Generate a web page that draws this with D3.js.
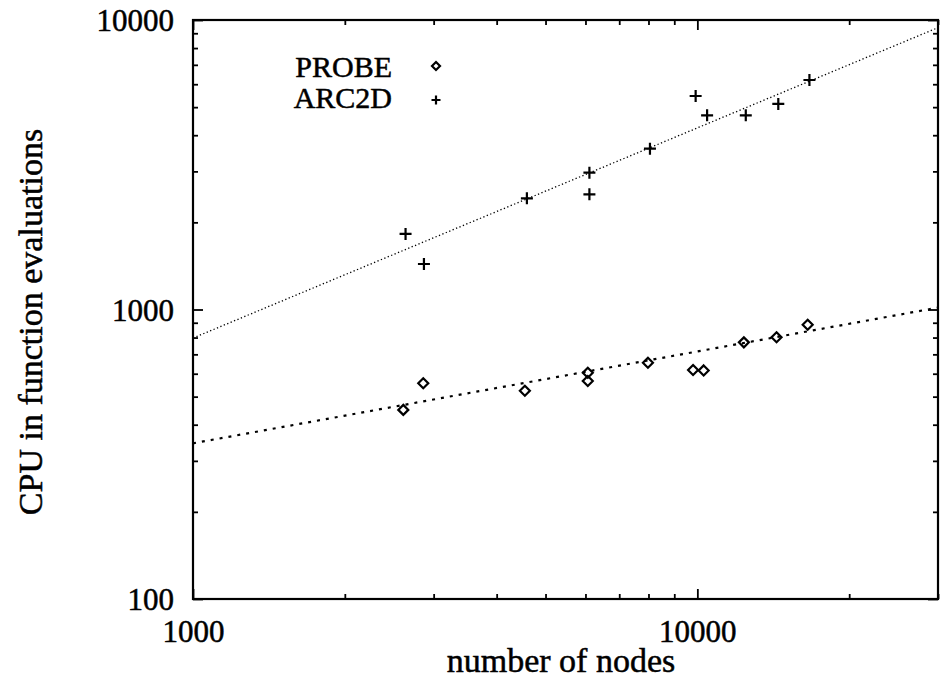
<!DOCTYPE html>
<html lang="en">
<head>
<meta charset="UTF-8">
<title>CPU vs number of nodes</title>
<script src="https://cdnjs.cloudflare.com/ajax/libs/d3/7.8.5/d3.min.js"></script>
<style>
    body { margin: 0; background: #fff; }
    svg { display: block; }
    text { font-family: "Liberation Serif", "DejaVu Serif", serif; fill: #000; stroke: #000; stroke-width: 0.5px; }
    .tick text { font-size: 31px; }
</style>
</head>
<body>
<svg id="chart" width="940" height="681"></svg>
<script>
    // values
    const probeNodes = [2612, 2861, 4550, 6064, 6064, 7980, 9806, 10292, 12366, 14355, 16548];
    const probeCpu   = [450, 556, 524, 605, 566, 655, 618, 616, 770, 802, 886];
    const arcNodes = [2639, 2870, 4592, 6109, 6109, 8054, 9922, 10455, 12474, 14470, 16680];
    const arcCpu   = [1824, 1436, 2421, 2968, 2500, 3593, 5464, 4687, 4687, 5128, 6204];
    // fitted lines, endpoints only
    const probeFit = [[1000, 345], [30000, 1015]];
    const arcFit   = [[1000, 797], [30000, 9410]];
    const xMajor = [1000, 10000];
    const xMinor = [2000, 3000, 4000, 5000, 6000, 7000, 8000, 9000, 20000, 30000];
    const yMajor = [100, 1000, 10000];
    const yMinor = [200, 300, 400, 500, 600, 700, 800, 900, 2000, 3000, 4000, 5000, 6000, 7000, 8000, 9000];
    const seriesNames = ["PROBE", "ARC2D"];

    const svg = d3.select("#chart");
    const pLeft = 193, pRight = 938, pTop = 20, pBottom = 599;

    const x = d3.scaleLog().domain([1000, 30000]).range([pLeft, pRight]);
    const y = d3.scaleLog().domain([100, 10000]).range([pBottom, pTop]);

    // ticks, all pointing into the plot
    function drawTicks(axisFn, scale, values, len, transform) {
        svg.append("g")
            .attr("transform", transform)
            .call(axisFn(scale).tickValues(values).tickSize(len).tickFormat(""))
            .call(g => g.select(".domain").remove())
            .selectAll("line").attr("stroke", "#000").attr("stroke-width", 1.8);
    }
    drawTicks(d3.axisBottom, x, xMinor, -5, `translate(0,${pBottom})`);
    drawTicks(d3.axisBottom, x, xMajor, -10, `translate(0,${pBottom})`);
    drawTicks(d3.axisTop, x, xMinor, -5, `translate(0,${pTop})`);
    drawTicks(d3.axisTop, x, xMajor, -10, `translate(0,${pTop})`);
    drawTicks(d3.axisLeft, y, yMinor, -5, `translate(${pLeft},0)`);
    drawTicks(d3.axisLeft, y, yMajor, -10, `translate(${pLeft},0)`);
    drawTicks(d3.axisRight, y, yMinor, -5, `translate(${pRight},0)`);
    drawTicks(d3.axisRight, y, yMajor, -10, `translate(${pRight},0)`);

    // tick labels
    svg.append("g")
        .attr("transform", `translate(0,${pBottom})`)
        .call(d3.axisBottom(x).tickValues(xMajor).tickSize(0).tickPadding(21).tickFormat(d3.format("d")))
        .call(g => g.attr("font-family", null).attr("font-size", null).select(".domain").remove());
    svg.append("g")
        .attr("transform", `translate(${pLeft},0)`)
        .call(d3.axisLeft(y).tickValues(yMajor).tickSize(0).tickPadding(19).tickFormat(d3.format("d")))
        .call(g => g.attr("font-family", null).attr("font-size", null).select(".domain").remove())
        .selectAll("text").attr("dy", "0.34em");

    // frame
    svg.append("rect")
        .attr("x", pLeft).attr("y", pTop)
        .attr("width", pRight - pLeft).attr("height", pBottom - pTop)
        .attr("fill", "none").attr("stroke", "#000").attr("stroke-width", 2.2);

    // fit lines
    const line = d3.line().x(d => x(d[0])).y(d => y(d[1]));
    svg.append("path").datum(arcFit).attr("d", line)
        .attr("fill", "none").attr("stroke", "#000")
        .attr("stroke-width", 1.3).attr("stroke-dasharray", "1.3,2.4");
    svg.append("path").datum(probeFit).attr("d", line)
        .attr("fill", "none").attr("stroke", "#000")
        .attr("stroke-width", 2.2).attr("stroke-dasharray", "3,6");

    const diamond = r => `M0,${-r}L${r},0L0,${r}L${-r},0Z`;
    const plus = r => `M${-r},0H${r}M0,${-r}V${r}`;

    function drawMarks(xs, ys, shape) {
        svg.append("g").selectAll("path")
            .data(xs.map((v, i) => [v, ys[i]]))
            .join("path")
            .attr("transform", d => `translate(${x(d[0])},${y(d[1])})`)
            .attr("d", shape)
            .attr("fill", "none").attr("stroke", "#000").attr("stroke-width", 2.2);
    }
    drawMarks(probeNodes, probeCpu, diamond(5));
    drawMarks(arcNodes, arcCpu, plus(6));

    // legend
    const legend = svg.append("g");
    seriesNames.forEach((name, i) => {
        legend.append("text")
            .attr("x", 392).attr("y", 77 + i * 31)
            .attr("text-anchor", "end")
            .attr("font-size", 30)
            .text(name);
        legend.append("path")
            .attr("transform", `translate(436,${66 + i * 34})`)
            .attr("d", i === 0 ? diamond(4) : plus(4.5))
            .attr("fill", "none").attr("stroke", "#000").attr("stroke-width", 2.2);
    });

    // axis titles
    svg.append("text")
        .attr("x", 561).attr("y", 672)
        .attr("text-anchor", "middle").attr("font-size", 34)
        .text("number of nodes");
    svg.append("text")
        .attr("transform", "translate(42,322) rotate(-90)")
        .attr("text-anchor", "middle").attr("font-size", 34)
        .text("CPU in function evaluations");
</script>
</body>
</html>
